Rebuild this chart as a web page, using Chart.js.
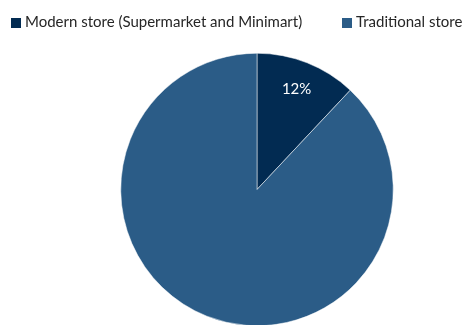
<!DOCTYPE html>
<html>
<head>
<meta charset="utf-8">
<script src="https://cdn.jsdelivr.net/npm/chart.js@4/dist/chart.umd.min.js"></script>
<style>
  html, body { margin: 0; padding: 0; overflow: hidden; background: #fff; }
  #wrap { position: relative; width: 468px; height: 325px; }
  #legend { position: absolute; top: 12px; left: 11px; font-family: Lato, sans-serif; font-size: 15px; color: #262626; white-space: nowrap; }
  #legend span.item { position: absolute; top: 0; }
  #legend i { display: inline-block; width: 10px; height: 10px; margin-right: 4px; vertical-align: -1px; }
</style>
</head>
<body>
<div id="wrap">
  <canvas id="pie" width="468" height="326"></canvas>
  <div id="legend"></div>
</div>
<script>
const categories = ['Modern store (Supermarket and Minimart)', 'Traditional store'];
const shares = [12, 88];
const colors = ['#022b52', '#2b5c87'];
const showLabel = [true, false];

// legend built from the same arrays
const legendEl = document.getElementById('legend');
const legendX = [0, 331];
categories.forEach((name, i) => {
  const item = document.createElement('span');
  item.className = 'item';
  item.style.left = legendX[i] + 'px';
  item.innerHTML = '<i style="background:' + colors[i] + '"></i>' + name;
  legendEl.appendChild(item);
});

// percentage text placed along the middle of each slice
const sliceLabels = {
  id: 'sliceLabels',
  afterDatasetsDraw(chart) {
    const ctx = chart.ctx;
    const arcs = chart.getDatasetMeta(0).data;
    ctx.save();
    ctx.fillStyle = '#ffffff';
    ctx.font = '15px Lato, sans-serif';
    ctx.textAlign = 'center';
    ctx.textBaseline = 'middle';
    arcs.forEach((arc, i) => {
      if (!showLabel[i]) return;
      const p = arc.getProps(['x', 'y', 'startAngle', 'endAngle', 'outerRadius'], true);
      const mid = (p.startAngle + p.endAngle) / 2;
      const r = p.outerRadius * 0.79;
      ctx.fillText(shares[i] + '%', p.x + Math.cos(mid) * r, p.y + Math.sin(mid) * r);
    });
    ctx.restore();
  }
};

new Chart(document.getElementById('pie'), {
  type: 'pie',
  data: {
    labels: categories,
    datasets: [{
      data: shares,
      backgroundColor: colors,
      borderColor: '#ffffff',
      borderWidth: 0.5
    }]
  },
  options: {
    responsive: false,
    animation: false,
    layout: { padding: { top: 53, left: 46, right: 0, bottom: 0 } },
    plugins: {
      legend: { display: false },
      tooltip: { enabled: false }
    }
  },
  plugins: [sliceLabels]
});
</script>
</body>
</html>
